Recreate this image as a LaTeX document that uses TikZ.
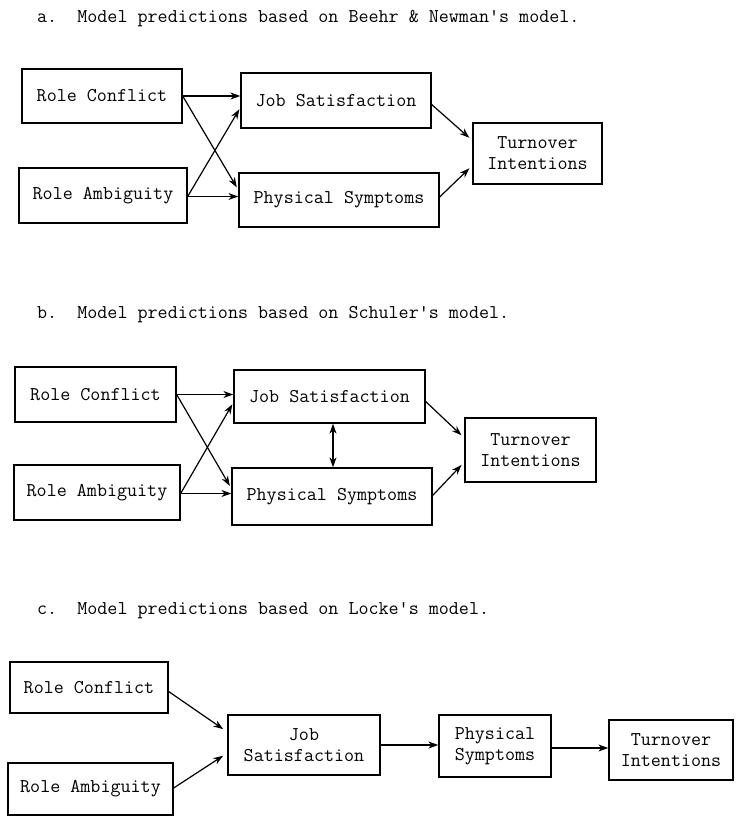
\documentclass[tikz,border=0pt]{standalone}
\usetikzlibrary{arrows.meta,calc}
\begin{document}
\begin{tikzpicture}[x=1pt,y=-1pt,
  box/.style={draw,line width=1.3pt,inner sep=0pt,align=center,font=\ttfamily\fontsize{19.5}{21}\selectfont},
  ttl/.style={anchor=west,inner sep=0pt,font=\ttfamily\fontsize{19.5}{21}\selectfont},
  arr/.style={line width=1.2pt,-{Stealth[length=10pt,width=7pt]}},
  darr/.style={line width=1.2pt,{Stealth[length=10pt,width=7pt]}-{Stealth[length=10pt,width=7pt]}}]
\useasboundingbox (0,0) rectangle (743,819);
% ---------- panel a
\node[ttl] (ta) at (37,19) {a.\ \ Model predictions based on Beehr \& Newman's model.};
\node[box,minimum width=160pt,minimum height=54pt] (arc) at (102,96) {Role Conflict};
\node[box,minimum width=168pt,minimum height=55pt] (ara) at (103,195.5) {Role Ambiguity};
\node[box,minimum width=190pt,minimum height=55pt] (ajs) at (336,100.5) {Job Satisfaction};
\node[box,minimum width=200pt,minimum height=54pt] (aps) at (339,200) {Physical Symptoms};
\node[box,minimum width=129pt,minimum height=61pt] (ati) at (537.5,153.5) {Turnover\\Intentions};
\draw[arr] (arc.east) -- (arc.east -| ajs.west);
\draw[arr,shorten >=3pt] (arc.east) -- ([yshift=10pt]aps.west);
\draw[arr,shorten >=2pt] ([yshift=-1pt]ara.east) -- ([yshift=-7pt]ajs.west);
\draw[arr] ([yshift=-1pt]ara.east) -- ([yshift=-1pt]ara.east -| aps.west);
\draw[arr,shorten >=4pt] ([yshift=-4pt]ajs.east) -- ([yshift=13pt]ati.west);
\draw[arr,shorten >=4pt] ([yshift=3pt]aps.east) -- ([yshift=-12pt]ati.west);
% ---------- panel b
\node[ttl] (tb) at (37,315) {b.\ \ Model predictions based on Schuler's model.};
\node[box,minimum width=161pt,minimum height=55pt] (brc) at (95.5,394.5) {Role Conflict};
\node[box,minimum width=166pt,minimum height=55pt] (bra) at (97,492.5) {Role Ambiguity};
\node[box,minimum width=191pt,minimum height=53pt] (bjs) at (329.5,396.5) {Job Satisfaction};
\node[box,minimum width=200pt,minimum height=57pt] (bps) at (332,496.5) {Physical Symptoms};
\node[box,minimum width=131pt,minimum height=64pt] (bti) at (530.5,450) {Turnover\\Intentions};
\draw[arr] (brc.east) -- (brc.east -| bjs.west);
\draw[arr,shorten >=3pt] (brc.east) -- ([yshift=8pt]bps.west);
\draw[arr,shorten >=2pt] ([yshift=-1pt]bra.east) -- ([yshift=-6pt]bjs.west);
\draw[arr] ([yshift=-1pt]bra.east) -- ([yshift=-1pt]bra.east -| bps.west);
\coordinate (bmid) at (333,0);
\draw[darr] (bmid |- bjs.south) -- (bmid |- bps.north);
\draw[arr,shorten >=4pt] ([yshift=-5pt]bjs.east) -- ([yshift=12pt]bti.west);
\draw[arr,shorten >=4pt] ([yshift=1pt]bps.east) -- ([yshift=-12pt]bti.west);
% ---------- panel c
\node[ttl] (tc) at (37,611) {c.\ \ Model predictions based on Locke's model.};
\node[box,minimum width=158pt,minimum height=51pt] (crc) at (89,687.5) {Role Conflict};
\node[box,minimum width=165pt,minimum height=52pt] (cra) at (90.5,789) {Role Ambiguity};
\node[box,minimum width=152pt,minimum height=60pt] (cjs) at (304,745) {Job\\Satisfaction};
\node[box,minimum width=112pt,minimum height=62pt] (cps) at (495,746) {Physical\\Symptoms};
\node[box,minimum width=124pt,minimum height=60pt] (cti) at (671,750) {Turnover\\Intentions};
\draw[arr,shorten >=5pt] ([yshift=-4pt]crc.east) -- ([yshift=13pt]cjs.west);
\draw[arr,shorten >=5pt] ([yshift=1pt]cra.east) -- ([yshift=-8pt]cjs.west);
\draw[arr] (cjs.east) -- (cjs.east -| cps.west);
\draw[arr] ([yshift=-2pt]cps.east) -- ([yshift=-2pt]cps.east -| cti.west);
\end{tikzpicture}
\end{document}
